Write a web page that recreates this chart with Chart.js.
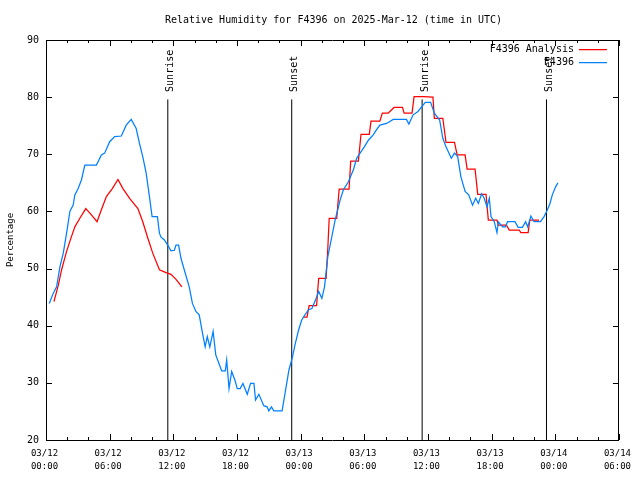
<!DOCTYPE html>
<html><head><meta charset="utf-8">
<script src="https://cdn.jsdelivr.net/npm/chart.js@4"></script>
<style>html,body{margin:0;padding:0;background:#fff;}canvas{display:block;}</style>
</head><body>
<canvas id="c" width="640" height="480"></canvas>
<script>
// Hours since 03/12 00:00 UTC
const analysisHours = [0.75,1.16,1.47,1.94,2.4,2.72,3.19,3.75,4.28,4.81,5.22,5.69,6.25,6.78,7.25,7.88,8.66,9.12,9.6,10.06,10.69,11.31,11.78,12.25,12.81,
  18,
  24.28,24.6,24.7,24.8,25.5,25.7,26.4,26.56,26.69,27.4,27.63,28.56,28.72,29.44,29.69,30.47,30.63,31.47,31.7,32.25,32.8,33.6,33.75,34.5,34.69,35.6,36.47,36.6,37.4,37.7,38.5,38.75,39.5,39.69,40.44,40.69,41.47,41.69,42.5,42.63,43.4,43.66,44.6,44.75,45.44,45.6,46.47];
const analysisValues = [44.2,47.1,49.8,53,55.6,57.3,58.8,60.5,59.4,58.2,60.3,62.6,64,65.6,64,62.3,60.5,58.2,55.3,52.7,49.8,49.3,49,48.1,46.8,
  null,
  41.5,41.5,42.5,43.5,43.5,48.3,48.3,53.5,58.8,58.8,63.9,63.9,68.8,68.8,73.5,73.5,75.8,75.8,77.2,77.2,78.2,78.2,77.2,77.2,80.1,80.1,80,76.3,76.3,72.1,72.1,69.9,69.9,67.4,67.4,63,63,58.5,58.5,57.6,57.6,56.75,56.75,56.3,56.3,58.5,58.5];

const observedHours = [0.31,0.69,1.0,1.31,1.63,1.94,2.25,2.56,2.72,3.03,3.34,3.66,4.75,5.22,5.53,6.0,6.47,7.1,7.56,8.03,8.5,8.81,9.12,9.44,9.75,10.0,10.5,10.69,10.84,11.16,11.47,11.78,12.1,12.25,12.5,12.72,13.03,13.5,13.8,14.13,14.44,14.75,15.0,15.2,15.44,15.75,16.0,16.3,16.56,16.9,17.03,17.25,17.5,17.8,18.03,18.3,18.56,18.97,19.28,19.6,19.75,20.06,20.53,20.84,21.0,21.25,21.47,22.25,22.56,22.9,23.2,23.5,23.8,24.1,24.4,24.75,25.06,25.4,25.7,26.0,26.25,26.56,26.94,27.25,27.5,27.72,28.03,28.5,28.97,29.28,29.6,30.0,30.4,30.84,31.16,31.47,32.1,32.72,33.97,34.2,34.6,35.06,35.4,35.75,36.25,36.6,37.1,37.4,37.7,38.2,38.5,38.8,39.1,39.5,39.84,40.2,40.5,40.75,41.06,41.3,41.56,41.78,41.94,42.25,42.5,42.63,43.03,43.3,43.5,44.2,44.5,44.9,45.2,45.4,45.7,46.0,46.6,46.94,47.25,47.5,47.72,48.03,48.25];
const observedValues = [43.9,45.7,46.8,50.3,52.7,56.2,60,61.1,62.9,64,65.5,68.1,68.1,69.9,70.2,72.2,73.1,73.2,75.1,76.1,74.5,71.9,69.6,66.7,62.6,59.1,59.1,56.2,55.5,55,54.1,53.1,53.2,54.1,54.1,51.8,49.8,46.8,43.9,42.5,41.9,38.7,36.3,38.1,36.3,39,34.9,33.4,32.1,32.1,34,29.0,32,30.5,29,29,29.9,28,29.9,29.9,27,28,26,25.8,25.1,25.8,25.1,25.1,28.5,32.3,34.3,36.9,39.2,41,41.9,42.8,43,44.5,46,44.8,46.8,52.1,55.6,58.5,60.3,62,63.8,65.2,67.3,69.3,70.2,71.3,72.5,73.4,74.3,75.1,75.4,76.1,76.1,75.3,76.9,77.5,78.3,79.1,79.1,77.2,76,72.8,71.3,69.3,70.2,69.6,66.1,63.5,62.9,61.1,62.3,61.4,63.1,62.3,60.8,62.3,59.1,58.2,56.3,58.2,57.3,57.3,58.2,58.2,57.2,57.2,58.2,57.3,59.2,58.2,58.2,59.1,60.25,61.4,62.9,64.3,65];

const eventHours = [11.48, 23.16, 35.45, 47.17];
const eventLabels = ['Sunrise', 'Sunset', 'Sunrise', 'Sunset'];
const eventLineTop = 79.6;

const yTickValues = [20, 30, 40, 50, 60, 70, 80, 90];
const xTickHours = [0, 6, 12, 18, 24, 30, 36, 42, 48, 54];
const xTickLabels = [['03/12','00:00'],['03/12','06:00'],['03/12','12:00'],['03/12','18:00'],['03/13','00:00'],['03/13','06:00'],['03/13','12:00'],['03/13','18:00'],['03/14','00:00'],['03/14','06:00']];

const FONT = "'DejaVu Sans Mono', monospace";

const pts = (xs, ys) => xs.map((h, i) => ({x: h, y: ys[i]}));
const eventPts = [];
eventHours.forEach(h => { eventPts.push({x: h, y: 20}, {x: h, y: eventLineTop}, {x: h, y: null}); });

const framePlugin = {
  id: 'frame',
  afterLayout(chart) {
    const lg = chart.legend;
    const ca = chart.chartArea;
    if (lg) {
      lg.left = ca.left;
      lg.right = ca.right - 9;
      lg.width = lg.right - lg.left;
      lg.top = ca.top + 1.5;
      lg.bottom = ca.bottom;
      lg.height = lg.bottom - lg.top;
    }
    if (chart.titleBlock) { chart.titleBlock.left += 27; }
  },
  beforeDatasetsDraw(chart) {
    const {ctx, chartArea: a, scales: {x, y}} = chart;
    ctx.save();
    ctx.strokeStyle = '#000';
    ctx.lineWidth = 1;
    ctx.beginPath();
    yTickValues.forEach(v => {
      const py = Math.round(y.getPixelForValue(v)) + 0.5;
      ctx.moveTo(a.left, py); ctx.lineTo(a.left + 6, py);
      ctx.moveTo(a.right, py); ctx.lineTo(a.right - 6, py);
    });
    for (let h = x.min; h <= x.max; h += 2) {
      const px = Math.round(x.getPixelForValue(h)) + 0.5;
      const len = (h % 6 === 0) ? 6 : 3;
      ctx.moveTo(px, a.bottom); ctx.lineTo(px, a.bottom - len);
      ctx.moveTo(px, a.top); ctx.lineTo(px, a.top + len);
    }
    ctx.stroke();
    ctx.restore();
  },
  afterDatasetsDraw(chart) {
    const {ctx, scales: {x, y}} = chart;
    ctx.save();
    ctx.fillStyle = '#000';
    ctx.font = '10px ' + FONT;
    ctx.textAlign = 'left';
    ctx.textBaseline = 'alphabetic';
    eventHours.forEach((h, i) => {
      const px = x.getPixelForValue(h);
      const py = y.getPixelForValue(eventLineTop) - 7.5;
      ctx.save();
      ctx.translate(px + 5.5, py);
      ctx.rotate(-Math.PI / 2);
      ctx.fillText(eventLabels[i], 0, 0);
      ctx.restore();
    });
    ctx.restore();
  }
};

new Chart(document.getElementById('c'), {
  type: 'line',
  data: {
    datasets: [
      {label: 'F4396 Analysis', data: pts(analysisHours, analysisValues), borderColor: '#ff0000', backgroundColor: '#ff0000', borderWidth: 1.25, pointRadius: 0, tension: 0, spanGaps: false, order: 2},
      {label: 'F4396', data: pts(observedHours, observedValues), borderColor: '#0080ff', backgroundColor: '#0080ff', borderWidth: 1.25, pointRadius: 0, tension: 0, order: 1},
      {label: 'events', data: eventPts, borderColor: '#000', backgroundColor: '#000', borderWidth: 1, pointRadius: 0, tension: 0, spanGaps: false, order: 3}
    ]
  },
  options: {
    responsive: false,
    animation: false,
    devicePixelRatio: 1,
    events: [],
    layout: {padding: 0},
    plugins: {
      title: {display: true, text: 'Relative Humidity for F4396 on 2025-Mar-12 (time in UTC)', color: '#000', font: {family: FONT, size: 10, weight: 'normal', lineHeight: 1.2}, padding: {top: 14, bottom: 0}},
      legend: {
        display: true, position: 'chartArea', align: 'start', rtl: true,
        labels: {
          font: {family: FONT, size: 10}, color: '#000', boxWidth: 28, boxHeight: 0, padding: 3,
          filter: item => item.datasetIndex < 2,
          sort: (a, b) => a.datasetIndex - b.datasetIndex
        }
      },
      tooltip: {enabled: false}
    },
    scales: {
      x: {
        type: 'linear', position: 'bottom', min: 0, max: 54,
        afterBuildTicks: s => { s.ticks = xTickHours.map(v => ({value: v})); },
        ticks: {autoSkip: false, maxRotation: 0, minRotation: 0, padding: 7.5, labelOffset: -1.5, color: '#000', font: {family: FONT, size: 9, lineHeight: 1.444},
          callback: (v, i) => xTickLabels[xTickHours.indexOf(v)]},
        grid: {display: true, drawOnChartArea: false, drawTicks: false},
        border: {display: true, color: '#000', width: 1},
        afterFit: s => { s.height = 40; }
      },
      x2: {
        type: 'linear', position: 'top', min: 0, max: 54,
        ticks: {display: false},
        grid: {display: true, drawOnChartArea: false, drawTicks: false},
        border: {display: true, color: '#000', width: 1},
        afterFit: s => { s.height = 14; }
      },
      y: {
        type: 'linear', position: 'left', min: 20, max: 90,
        afterBuildTicks: s => { s.ticks = yTickValues.map(v => ({value: v})); },
        ticks: {padding: 7, color: '#000', font: {family: FONT, size: 10}},
        grid: {display: true, drawOnChartArea: false, drawTicks: false},
        border: {display: true, color: '#000', width: 1},
        title: {display: true, text: 'Percentage', color: '#000', font: {family: FONT, size: 9}, padding: {top: 5, bottom: 0}},
        afterFit: s => { s.width = 46; }
      },
      y2: {
        type: 'linear', position: 'right', min: 20, max: 90,
        ticks: {display: false},
        grid: {display: true, drawOnChartArea: false, drawTicks: false},
        border: {display: true, color: '#000', width: 1},
        afterFit: s => { s.width = 19; }
      }
    }
  },
  plugins: [framePlugin]
});
</script>
</body></html>
